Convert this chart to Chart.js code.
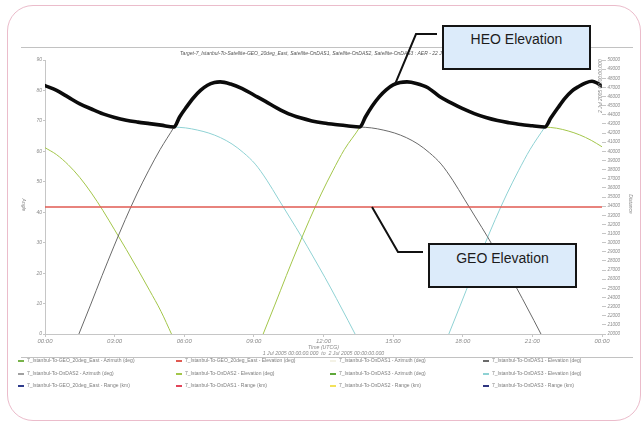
<!DOCTYPE html>
<html>
<head>
<meta charset="utf-8">
<title>Target-7 Istanbul AER</title>
<script src="https://cdn.jsdelivr.net/npm/chart.js@4.4.1/dist/chart.umd.min.js"></script>
<style>
  html, body { margin: 0; padding: 0; background: #ffffff; }
  #stage { position: relative; width: 644px; height: 429px; overflow: hidden; background: #ffffff; }
  #frame { position: absolute; left: 7px; top: 5px; width: 634px; height: 416px; box-sizing: border-box;
           border: 1.5px solid #ebbccb; border-radius: 26px; }
  #chart { position: absolute; left: 0; top: 0; }
  .callout { position: absolute; box-sizing: border-box; width: 149px; height: 45px; background: #dcebfa;
             border: 2px solid #141414; font: 14px "Liberation Sans", Arial, sans-serif; color: #1c1c1c;
             text-align: center; line-height: 16px; }
  #heoBox { left: 442px; top: 25px; padding-top: 4px; }
  #geoBox { left: 428px; top: 243px; padding-top: 5px; }
  #legend { position: absolute; left: 0; top: 0; width: 644px; height: 429px; pointer-events: none; }
  .lg { position: absolute; height: 6px; font: 5px "Liberation Sans", Arial, sans-serif; color: #7d7d7d;
        white-space: nowrap; line-height: 6px; }
  .lg i { display: inline-block; width: 6px; height: 2px; vertical-align: middle; margin-right: 3px; }
</style>
</head>
<body>
<div id="stage">
  <div id="frame"></div>
  <canvas id="chart" width="644" height="429"></canvas>
  <div id="legend"></div>
  <div class="callout" id="heoBox">HEO Elevation</div>
  <div class="callout" id="geoBox">GEO Elevation</div>
</div>
<script>
// ---- text ----
const chartTitle = 'Target-7_Istanbul-To-Satellite-GEO_20deg_East, Satellite-OnDAS1, Satellite-OnDAS2, Satellite-OnDAS3 : AER - 22 Jul 2005';
const angleTitle = 'Angle';
const distanceTitle = 'Distance';
const timeTitle = ['Time (UTCG)', '1 Jul 2005 00:00:00.000  to  2 Jul 2005 00:00:00.000'];
const endStamp = '2 Jul 2005 00:00:00.000';
const timeTickLabels = ['00:00', '03:00', '06:00', '09:00', '12:00', '15:00', '18:00', '21:00', '00:00'];

const seriesNames = [
  '7_Istanbul-To-GEO_20deg_East - Azimuth (deg)',
  '7_Istanbul-To-GEO_20deg_East - Elevation (deg)',
  '7_Istanbul-To-OnDAS1 - Azimuth (deg)',
  '7_Istanbul-To-OnDAS1 - Elevation (deg)',
  '7_Istanbul-To-OnDAS2 - Azimuth (deg)',
  '7_Istanbul-To-OnDAS2 - Elevation (deg)',
  '7_Istanbul-To-OnDAS3 - Azimuth (deg)',
  '7_Istanbul-To-OnDAS3 - Elevation (deg)',
  '7_Istanbul-To-GEO_20deg_East - Range (km)',
  '7_Istanbul-To-OnDAS1 - Range (km)',
  '7_Istanbul-To-OnDAS2 - Range (km)',
  '7_Istanbul-To-OnDAS3 - Range (km)'
];

// ---- data: hours after 1 Jul 2005 00:00 UTCG, elevation in degrees ----
const geoElevHours = [0, 24];
const geoElev = [41.7, 41.7];

const das1Hours = [1.46, 1.96, 2.46, 2.96, 3.46, 3.96, 4.46, 4.96, 5.56, 5.8, 6.1, 6.4, 6.7, 7.0, 7.3, 7.55,
  8.0, 8.5, 9.0, 9.5, 10.0, 10.5, 11.0, 11.5, 12.0, 12.5, 13.0, 13.57, 14.07, 14.57, 15.07, 15.57, 16.07,
  16.57, 17.07, 17.57, 18.07, 18.57, 19.07, 19.57, 20.07, 20.57, 21.07, 21.37];
const das1Elev = [0, 9.5, 19.2, 28.6, 37.6, 46.0, 53.6, 60.6, 68.0, 71.3, 74.6, 77.6, 80.0, 81.7, 82.6, 82.8,
  82.1, 80.6, 78.5, 76.4, 74.2, 72.3, 71.0, 70.0, 69.3, 68.8, 68.4, 68.0, 67.7, 67.0, 66.0, 64.5, 62.4,
  59.5, 55.8, 50.5, 44.3, 38.1, 31.9, 25.3, 18.6, 11.6, 4.4, 0];

const das2Hours = [0, 0.5, 1.0, 1.5, 2.0, 2.5, 3.0, 3.5, 4.0, 4.5, 5.0, 5.45, 7.4, 9.4, 9.9, 10.4, 10.9,
  11.4, 11.9, 12.4, 12.9, 13.57, 13.8, 14.1, 14.4, 14.7, 15.0, 15.3, 15.6, 16.0, 16.5, 17.0, 17.5, 18.0,
  18.5, 19.0, 19.5, 20.0, 20.5, 21.0, 21.54, 22.04, 22.54, 23.04, 23.54, 24];
const das2Elev = [61.2, 58.9, 55.6, 51.4, 46.3, 40.5, 34.2, 27.8, 21.2, 14.4, 7.4, 0, null, 0, 9.5, 19.2, 28.6,
  37.6, 46.0, 53.6, 60.6, 68.0, 71.2, 74.9, 77.9, 80.2, 81.8, 82.6, 82.8, 82.3, 80.9, 78.0, 75.9, 74.0,
  72.4, 71.1, 70.1, 69.4, 68.8, 68.4, 68.0, 67.6, 66.7, 65.4, 63.6, 61.5];

const das3Hours = [0, 0.5, 1.0, 1.5, 2.0, 2.5, 3.0, 3.5, 4.0, 4.5, 5.0, 5.56, 6.06, 6.56, 7.06, 7.56, 8.06,
  8.56, 9.06, 9.56, 10.06, 10.56, 11.06, 11.56, 12.06, 12.56, 13.06, 13.36, 15.4, 17.4, 17.9, 18.4, 18.9,
  19.4, 19.9, 20.4, 20.9, 21.54, 21.8, 22.1, 22.4, 22.7, 23.0, 23.3, 23.57, 23.8, 24];
const das3Elev = [81.6, 80.0, 77.8, 75.6, 73.9, 72.3, 71.1, 70.2, 69.6, 69.1, 68.6, 68.0, 67.7, 67.0, 66.0,
  64.5, 62.4, 59.5, 55.8, 50.5, 44.3, 38.1, 31.9, 25.3, 18.6, 11.6, 4.4, 0, null, 0, 9.5, 19.2, 28.6,
  37.6, 46.0, 53.6, 60.6, 68.0, 71.0, 74.3, 77.4, 79.8, 81.3, 82.5, 83.0, 82.4, 81.4];

// highest HEO satellite at each moment (the bold trace)
const heoHours = [0, 0.5, 1.0, 1.5, 2.0, 2.5, 3.0, 3.5, 4.0, 4.5, 5.0, 5.56, 5.8, 6.1, 6.4, 6.7, 7.0, 7.3,
  7.55, 8.0, 8.5, 9.0, 9.5, 10.0, 10.5, 11.0, 11.5, 12.0, 12.5, 13.0, 13.57, 13.8, 14.1, 14.4, 14.7, 15.0,
  15.3, 15.6, 16.0, 16.5, 17.0, 17.5, 18.0, 18.5, 19.0, 19.5, 20.0, 20.5, 21.0, 21.54, 21.8, 22.1, 22.4,
  22.7, 23.0, 23.3, 23.57, 23.8, 24];
const heoElev = [81.6, 80.0, 77.8, 75.6, 73.9, 72.3, 71.1, 70.2, 69.6, 69.1, 68.6, 68.0, 71.3, 74.6, 77.6,
  80.0, 81.7, 82.6, 82.8, 82.1, 80.6, 78.5, 76.4, 74.2, 72.3, 71.0, 70.0, 69.3, 68.8, 68.4, 68.0, 71.2,
  74.9, 77.9, 80.2, 81.8, 82.6, 82.8, 82.3, 80.9, 78.0, 75.9, 74.0, 72.4, 71.1, 70.1, 69.4, 68.8, 68.4,
  68.0, 71.0, 74.3, 77.4, 79.8, 81.3, 82.5, 83.0, 82.4, 81.4];

// where the two callouts point (hour, degrees)
const heoCalloutAt = [15.07, 81.8];
const geoCalloutAt = [14.09, geoElev[0]];

// ---- chart ----
const FONT = '"Liberation Sans", Arial, sans-serif';
Chart.defaults.font.family = FONT;

function pts(hours, vals) { return hours.map((h, i) => ({ x: h, y: vals[i] })); }

const thin = { borderWidth: 1, pointRadius: 0, cubicInterpolationMode: 'monotone', spanGaps: false, fill: false, yAxisID: 'y' };

const datasets = [
  { ...thin, label: seriesNames[0], data: [], borderColor: '#78b34a' },
  { ...thin, label: seriesNames[1], data: pts(geoElevHours, geoElev), borderColor: '#e05a52', borderWidth: 1.5 },
  { ...thin, label: seriesNames[2], data: [], borderColor: '#f4f2e6' },
  { ...thin, label: seriesNames[3], data: pts(das1Hours, das1Elev), borderColor: '#6a6a6a' },
  { ...thin, label: seriesNames[4], data: [], borderColor: '#a0a0a0' },
  { ...thin, label: seriesNames[5], data: pts(das2Hours, das2Elev), borderColor: '#a3c64a' },
  { ...thin, label: seriesNames[6], data: [], borderColor: '#5fa83a' },
  { ...thin, label: seriesNames[7], data: pts(das3Hours, das3Elev), borderColor: '#8fd2d4' },
  { ...thin, label: seriesNames[8], data: [], borderColor: '#2f3c8c', yAxisID: 'y2' },
  { ...thin, label: seriesNames[9], data: [], borderColor: '#e2455a', yAxisID: 'y2' },
  { ...thin, label: seriesNames[10], data: [], borderColor: '#f2e15a', yAxisID: 'y2' },
  { ...thin, label: seriesNames[11], data: [], borderColor: '#2e3580', yAxisID: 'y2' },
  { ...thin, label: 'HEO Elevation', data: pts(heoHours, heoElev), borderColor: '#0b0b0b', borderWidth: 3.6,
    order: -1, borderJoinStyle: 'round', borderCapStyle: 'round' }
];

const tickFont = { size: 5, style: 'italic', family: FONT };
const axisGrey = '#c6c6c6';

const decor = {
  id: 'decor',
  beforeDraw(chart) {
    const c = chart.ctx;
    c.save();
    c.strokeStyle = '#c2c2c2';
    c.lineWidth = 1;
    c.beginPath();
    c.moveTo(21, 47.5); c.lineTo(633, 47.5);
    c.moveTo(21, 357.5); c.lineTo(633, 357.5);
    c.stroke();
    c.restore();
  },
  afterDraw(chart) {
    const c = chart.ctx;
    const { x, y } = chart.scales;
    c.save();
    // chart heading
    c.fillStyle = '#555';
    c.font = 'italic 5px ' + FONT;
    c.textBaseline = 'middle';
    c.textAlign = 'left';
    c.fillText(chartTitle, 180, 54);

    // axis titles, both running top to bottom
    c.fillStyle = '#8a8a8a';
    c.font = 'italic 5px ' + FONT;
    c.textAlign = 'center';
    c.save(); c.translate(23.8, 205); c.rotate(Math.PI / 2); c.fillText(angleTitle, 0, 0); c.restore();
    c.save(); c.translate(630.5, 204); c.rotate(Math.PI / 2); c.fillText(distanceTitle, 0, 0); c.restore();

    // end-of-interval stamp along the right edge
    c.save(); c.translate(601, 113); c.rotate(-Math.PI / 2); c.textAlign = 'left';
    c.fillText(endStamp, 0, 0); c.restore();

    // callout leaders
    c.strokeStyle = '#111';
    c.lineWidth = 2;
    c.lineJoin = 'miter';
    const hx = x.getPixelForValue(heoCalloutAt[0]), hy = y.getPixelForValue(heoCalloutAt[1]);
    c.beginPath(); c.moveTo(hx, hy); c.lineTo(416, 34); c.lineTo(437, 34); c.stroke();
    const gx = x.getPixelForValue(geoCalloutAt[0]), gy = y.getPixelForValue(geoCalloutAt[1]);
    c.beginPath(); c.moveTo(gx, gy); c.lineTo(398, 252); c.lineTo(423, 252); c.stroke();
    c.restore();
  }
};

const chart = new Chart(document.getElementById('chart'), {
  type: 'line',
  data: { datasets },
  plugins: [decor],
  options: {
    responsive: false,
    animation: false,
    devicePixelRatio: 1,
    layout: { padding: { left: 18, right: 10, top: 60, bottom: 72 } },
    plugins: { legend: { display: false }, tooltip: { enabled: false }, title: { display: false } },
    elements: { point: { radius: 0 } },
    scales: {
      x: {
        type: 'linear', min: 0, max: 24,
        afterFit: s => { s.height = 23; },
        ticks: { stepSize: 3, autoSkip: false, maxRotation: 0, font: { size: 6, style: 'italic' }, color: '#8a8a8a',
                 padding: 1, callback: (v, i) => timeTickLabels[i] },
        grid: { drawOnChartArea: false, drawTicks: true, tickLength: 3, color: axisGrey },
        border: { display: true, color: axisGrey },
        title: { display: true, text: timeTitle, color: '#8a8a8a', font: { size: 5.2, style: 'italic', lineHeight: 1.15 },
                 padding: { top: 0, bottom: 0 } }
      },
      y: {
        position: 'left', min: 0, max: 90,
        afterFit: s => { s.width = 27; },
        ticks: { stepSize: 10, font: tickFont, color: '#8a8a8a', padding: 1 },
        grid: { drawOnChartArea: false, drawTicks: true, tickLength: 2, color: axisGrey },
        border: { display: true, color: axisGrey }
      },
      y2: {
        position: 'right', min: 20000, max: 50000,
        afterFit: s => { s.width = 32; },
        ticks: { stepSize: 1000, autoSkip: false, font: { size: 4.5, style: 'italic' }, color: '#8a8a8a', padding: 1.5,
                 callback: v => String(v) },
        grid: { drawOnChartArea: false, drawTicks: true, tickLength: 4, color: axisGrey },
        border: { display: false }
      }
    }
  }
});

// four-column legend under the plot
(function buildLegend() {
  const host = document.getElementById('legend');
  const colLeft = [18, 176, 330, 483];
  const rowTop = [357, 370, 382];
  chart.data.datasets.slice(0, seriesNames.length).forEach((ds, i) => {
    const el = document.createElement('div');
    el.className = 'lg';
    el.style.left = colLeft[i % 4] + 'px';
    el.style.top = rowTop[Math.floor(i / 4)] + 'px';
    const sw = document.createElement('i');
    sw.style.background = ds.borderColor;
    el.appendChild(sw);
    el.appendChild(document.createTextNode(ds.label));
    host.appendChild(el);
  });
})();
</script>
</body>
</html>
